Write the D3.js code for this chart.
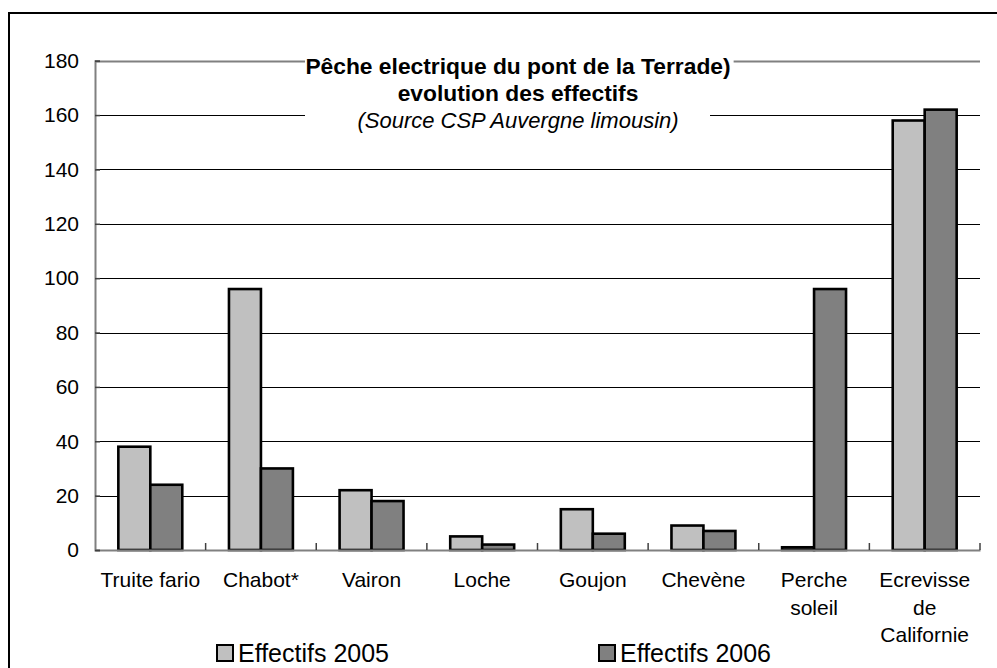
<!DOCTYPE html>
<html><head><meta charset="utf-8">
<script src="https://cdn.jsdelivr.net/npm/d3@7"></script>
<style>body{margin:0;background:#fff}svg{display:block}text{font-family:"Liberation Sans",Arial,sans-serif}</style>
</head><body>
<svg id="c" width="997" height="668"></svg>
<script>
const categories = ["Truite fario","Chabot*","Vairon","Loche","Goujon","Chevène","Perche soleil","Ecrevisse de Californie"];
const labelLines = [["Truite fario"],["Chabot*"],["Vairon"],["Loche"],["Goujon"],["Chevène"],["Perche","soleil"],["Ecrevisse","de","Californie"]];
const seriesNames = ["Effectifs 2005","Effectifs 2006"];
const values2005 = [38,96,22,5,15,9,1,158];
const values2006 = [24,30,18,2,6,7,96,162];
const yTicks = [0,20,40,60,80,100,120,140,160,180];
const titleLines = ["Pêche electrique du pont de la Terrade)","evolution des effectifs","(Source CSP Auvergne limousin)"];
const colors = ["#c0c0c0","#808080"];

const svg = d3.select("#c");
// outer frame
svg.append("rect").attr("x",9).attr("y",13).attr("width",1100).attr("height",800)
  .attr("fill","none").attr("stroke","#000").attr("stroke-width",2);

const x0 = d3.scaleBand().domain(categories).range([95,980]).padding(0);
const x1 = d3.scaleBand().domain(seriesNames).range([0,x0.bandwidth()]).paddingInner(0).paddingOuter(0.73);
const y = d3.scaleLinear().domain([0,180]).range([550,60.7]);

// gridlines
svg.append("g").selectAll("line").data(yTicks.filter(d=>d>0)).join("line")
  .attr("x1",95).attr("x2",980).attr("y1",d=>Math.round(y(d))+0.5).attr("y2",d=>Math.round(y(d))+0.5)
  .attr("stroke",d=>d===180?"#808080":"#000").attr("stroke-width",d=>d===180?2:1);

// title background + text
const tg = svg.append("g");
tg.append("rect").attr("x",305).attr("y",57).attr("width",405).attr("height",77).attr("fill","#fff");
const bg1 = tg.append("rect").attr("fill","#fff");
const tl = tg.selectAll("text").data(titleLines).join("text")
  .attr("x",518).attr("y",(d,i)=>74+i*27).attr("text-anchor","middle")
  .attr("font-size",(d,i)=>i<2?"22.8px":"22px")
  .attr("font-weight",(d,i)=>i<2?"bold":"normal")
  .attr("font-style",(d,i)=>i===2?"italic":"normal")
  .attr("fill","#000").text(d=>d);
const bb = tl.nodes()[0].getBBox();
bg1.attr("x",305).attr("y",57).attr("width",bb.x+bb.width+3-305).attr("height",10);

// bars
const data = categories.map((c,i)=>({c, v:[values2005[i],values2006[i]]}));
const g = svg.append("g");
data.forEach(d=>{
  seriesNames.forEach((s,j)=>{
    g.append("rect")
      .attr("x",x0(d.c)+x1(s)).attr("width",x1.bandwidth())
      .attr("y",y(d.v[j])).attr("height",y(0)-y(d.v[j]))
      .attr("fill",colors[j]).attr("stroke","#000").attr("stroke-width",2.6);
  });
});

// axes
const xAxis = d3.axisBottom(x0).tickSize(0).tickFormat("");
const xa = svg.append("g").attr("transform","translate(0,550)").call(xAxis);
xa.select(".domain").attr("stroke","#808080").attr("stroke-width",2);
svg.append("g").selectAll("line").data(categories).join("line")
  .attr("x1",d=>x0(d)+x0.bandwidth()).attr("x2",d=>x0(d)+x0.bandwidth())
  .attr("y1",550).attr("y2",543).attr("stroke","#404040").attr("stroke-width",1.5);
const yAxis = d3.axisLeft(y).tickValues(yTicks).tickSize(-5).tickPadding(16).tickFormat(d3.format("d"));
const ya = svg.append("g").attr("transform","translate(95,0)").call(yAxis);
ya.select(".domain").attr("stroke","#808080").attr("stroke-width",2);
ya.selectAll(".tick line").attr("stroke","#404040").attr("stroke-width",1.5);
ya.selectAll(".tick text").attr("font-size","21px").attr("fill","#000").attr("font-family","Liberation Sans, Arial, sans-serif");
xa.select(".domain").raise();

// category labels
const lg = svg.append("g");
labelLines.forEach((lines,i)=>{
  lines.forEach((t,k)=>{
    lg.append("text").attr("x",x0(categories[i])+x0.bandwidth()/2).attr("y",587+k*27.5)
      .attr("text-anchor","middle").attr("font-size","21px").attr("fill","#000").text(t);
  });
});

// legend
const legX = [216,598];
seriesNames.forEach((s,j)=>{
  svg.append("rect").attr("x",legX[j]+1).attr("y",645).attr("width",16).attr("height",16)
    .attr("fill",colors[j]).attr("stroke","#000").attr("stroke-width",2);
  svg.append("text").attr("x",legX[j]+22).attr("y",662).attr("font-size","25px").attr("fill","#000").text(s);
});
</script>
</body></html>
